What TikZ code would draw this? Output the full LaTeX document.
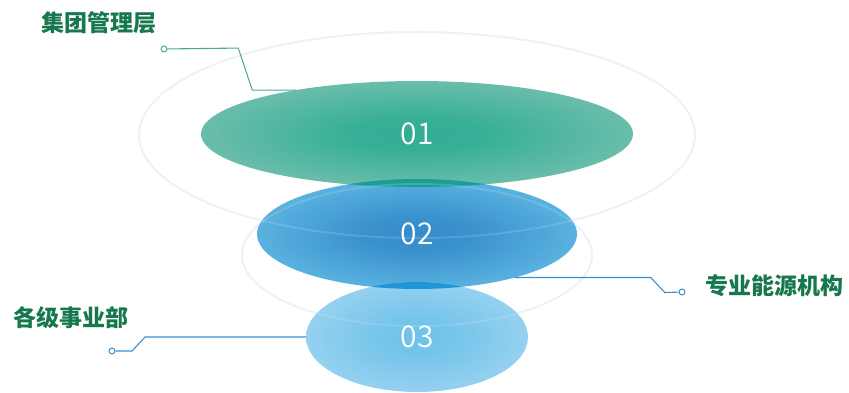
\documentclass[tikz,border=0pt]{standalone}
\usepackage{fontspec}
\newfontfamily\cjk{Noto Sans CJK SC}
\newfontfamily\numfont{Noto Sans CJK SC DemiLight}
\usepackage{tikz}
\usetikzlibrary{shapes.geometric}
\definecolor{labelgreen}{HTML}{17784E}
\definecolor{leadgreen}{HTML}{4BAA92}
\definecolor{leadblue}{HTML}{3A8FD2}
\definecolor{ringgray}{HTML}{E8F0F8}
\definecolor{tealin}{HTML}{22A88C}
\definecolor{tealout}{HTML}{80C2B2}
\definecolor{bluein}{HTML}{2884C6}
\definecolor{blueout}{HTML}{62C2EA}
\definecolor{skyin}{HTML}{66BEE8}
\definecolor{skyout}{HTML}{A2D6F2}
\definecolor{overteal}{HTML}{1A9E96}
\definecolor{overblue}{HTML}{2096D6}
\pgfdeclareradialshading[cin,cout]{layershade}{\pgfpointorigin}{color(0bp)=(cin); color(8bp)=(cin!90!cout); color(35bp)=(cout); color(50bp)=(cout)}
\tikzset{
  layer/.style={ellipse, inner sep=0pt, outer sep=0pt, shade, shading=layershade, fill opacity=0.94, text opacity=1, text=white, font=\numfont\fontsize{30}{30}\selectfont},
  title/.style={text=labelgreen, font=\cjk\bfseries\fontsize{23}{23}\selectfont},
  dot/.style={circle, draw, fill=white, inner sep=0pt, minimum size=6pt, line width=1pt},
  ring/.style={ringgray, line width=2pt},
  leader/.style={line width=1.1pt}
}
\begin{document}
\begin{tikzpicture}[x=1pt,y=-1pt]
    \useasboundingbox (0,0) rectangle (849,393);
    \draw[ring] (417,135) ellipse [x radius=278, y radius=103];
    \draw[ring] (417,255) ellipse [x radius=175, y radius=71];

    \foreach \n/\y/\w/\h/\ci/\co in {1/134/432/106/tealin/tealout, 2/234/320/110/bluein/blueout, 3/337/222/110/skyin/skyout}
    {
    \colorlet{cin}{\ci}\colorlet{cout}{\co}
    \node[layer, minimum width=\w pt, minimum height=\h pt] (e\n) at (417,\y) {0\n};
    }

    \begin{scope}
    \clip (e1.center) ellipse [x radius=216, y radius=53];
    \fill[overteal] (e2.center) ellipse [x radius=160, y radius=55];
    \end{scope}
    \begin{scope}
    \clip (e2.center) ellipse [x radius=160, y radius=55];
    \fill[overblue] (e3.center) ellipse [x radius=111, y radius=55];
    \end{scope}

    \draw[ring, white, opacity=0.15] (417,135) ellipse [x radius=278, y radius=103];
    \draw[ring, white, opacity=0.15] (417,255) ellipse [x radius=175, y radius=71];

    \node[title] (top) at (99,23) {集团管理层};
    \node[title] (right) at (774,286) {专业能源机构};
    \node[title] (left) at (71,318) {各级事业部};

    \node[dot, draw=leadgreen] (d1) at (164,49) {};
    \node[dot, draw=leadblue] (d2) at (682,292) {};
    \node[dot, draw=leadblue] (d3) at (112,351) {};

    \draw[leader, leadgreen] (e1.160) -- ++(-44,0) -- ++(-14,-42) -- (d1);
    \draw[leader, leadblue] (e2.-24) -- ++(136,0) -- ++(14,15) -- (d2);
    \draw[leader, leadblue] (e3.west) -- ++(-161,0) -- ++(-13,14) -- (d3);
\end{tikzpicture}
\end{document}
